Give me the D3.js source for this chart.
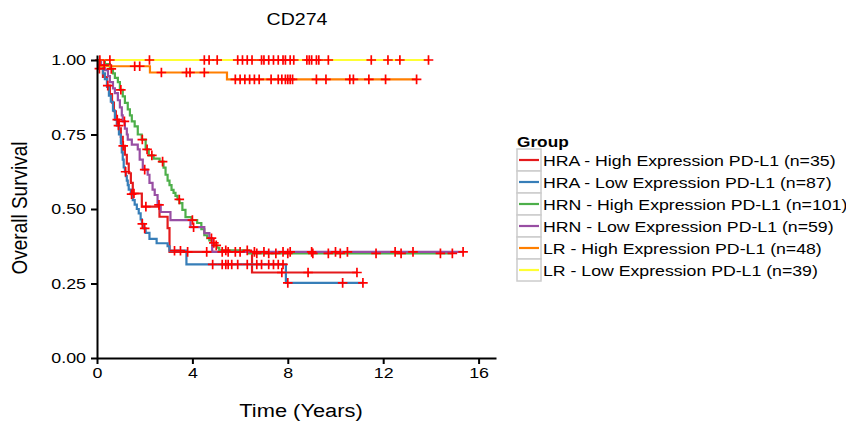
<!DOCTYPE html>
<html><head><meta charset="utf-8">
<script src="https://cdn.jsdelivr.net/npm/d3@7"></script>
<style>body{margin:0;background:#fff}svg{display:block}text{font-family:"Liberation Sans",Arial,sans-serif}</style>
</head><body><svg id="c" width="846" height="421"></svg>
<script>
// ---------- data ----------
const groupNames = ["HRA - High Expression PD-L1 (n=35)","HRA - Low Expression PD-L1 (n=87)","HRN - High Expression PD-L1 (n=101)","HRN - Low Expression PD-L1 (n=59)","LR - High Expression PD-L1 (n=48)","LR - Low Expression PD-L1 (n=39)"];
const groupColors = ["#E41A1C","#377EB8","#4DAF4A","#984EA3","#FF7F00","#FFFF33"];
const xTicks = [0,4,8,12,16];
const yTicks = [0,0.25,0.5,0.75,1];

const hraHighTime = [0.08,0.25,0.42,0.54,0.63,0.71,0.79,0.92,1.0,1.08,1.17,1.25,1.33,1.42,1.5,1.88,2.62,2.96,3.04,6.5];
const hraHighSurv = [0.971,0.943,0.914,0.886,0.857,0.828,0.800,0.771,0.742,0.712,0.682,0.652,0.620,0.588,0.552,0.508,0.474,0.436,0.356,0.287];
const hraHighEnd = 10.9;
const hraHighCensor = [0.1,0.45,0.85,1.1,1.55,2.05,3.8,4.6,5.25,5.8,7.75,8.85,10.9];

const hraLowTime = [0.12,0.25,0.33,0.42,0.5,0.58,0.67,0.75,0.83,0.92,1.0,1.04,1.08,1.12,1.17,1.21,1.25,1.29,1.33,1.42,1.5,1.58,1.67,1.75,1.83,1.88,1.96,2.04,2.2,2.5,2.96,3.04,3.75,7.92];
const hraLowSurv = [0.98,0.955,0.936,0.91,0.88,0.86,0.83,0.80,0.78,0.75,0.72,0.69,0.666,0.64,0.625,0.61,0.595,0.58,0.565,0.55,0.53,0.515,0.50,0.485,0.465,0.45,0.435,0.42,0.40,0.385,0.375,0.36,0.314,0.252];
const hraLowEnd = 11.15;
const hraLowCensor = [0.9,1.2,1.45,1.9,2.0,3.25,3.5,4.85,5.25,5.4,5.5,5.65,5.9,6.3,6.7,6.9,7.2,7.4,7.6,7.8,8.0,10.3,11.15];

const hrnHighTime = [0.33,0.54,0.67,0.75,0.875,0.96,1.08,1.17,1.29,1.38,1.46,1.58,1.71,1.875,2.04,2.17,2.375,2.625,2.79,2.875,2.96,3.04,3.125,3.21,3.29,3.375,3.46,3.58,3.71,3.96,4.2,4.375,4.5,4.62,4.71,4.83,4.92,5.04,5.125,6.375];
const hrnHighSurv = [0.986,0.97,0.955,0.94,0.926,0.90,0.878,0.856,0.834,0.814,0.794,0.777,0.75,0.733,0.70,0.68,0.669,0.659,0.639,0.615,0.595,0.58,0.564,0.554,0.544,0.532,0.52,0.497,0.473,0.463,0.453,0.432,0.412,0.402,0.395,0.386,0.378,0.37,0.361,0.351];
const hrnHighEnd = 14.9;
const hrnHighCensor = [0.6,1.0,1.9,2.1,2.3,2.75,3.45,4.0,4.9,5.0,5.4,6.3,6.7,7.2,7.5,8.0,9.05,9.7,10.2,11.7,12.75,14.4,14.9];

const hrnLowTime = [0.17,0.33,0.46,0.54,0.67,0.75,0.875,0.96,1.04,1.08,1.17,1.25,1.29,1.46,1.71,1.79,1.92,2.125,2.2,2.33,2.42,2.54,2.67,3.08,3.92,4.5,4.71,4.83];
const hrnLowSurv = [0.983,0.966,0.946,0.926,0.905,0.889,0.865,0.841,0.814,0.794,0.77,0.75,0.733,0.716,0.70,0.666,0.632,0.615,0.588,0.565,0.547,0.514,0.49,0.463,0.439,0.419,0.402,0.356];
const hrnLowEnd = 15.35;
const hrnLowCensor = [0.3,1.15,2.0,2.6,4.05,4.8,5.5,6.0,6.6,7.0,7.8,8.1,9.0,10.0,10.5,12.5,13.25,15.35];

const lrHighTime = [0.12,2.22,5.45];
const lrHighSurv = [0.979,0.958,0.935];
const lrHighEnd = 13.4;
const lrHighCensor = [1.58,1.79,2.7,3.75,3.9,4.5,5.8,6.0,6.2,6.4,6.6,6.8,7.3,7.6,7.75,7.9,8.0,8.1,8.2,9.2,9.6,10.6,10.75,11.4,12.1,13.4];

const lrLowTime = [];
const lrLowSurv = [];
const lrLowEnd = 13.9;
const lrLowCensor = [0.12,0.54,2.2,4.5,4.7,5.04,5.9,6.1,6.3,6.5,6.9,7.0,7.2,7.4,7.6,7.8,7.9,8.1,8.25,8.8,8.9,9.0,9.2,9.3,9.7,11.5,12.2,12.7,13.9];

// ---------- build ----------
const groups = [
  {time:hraHighTime,surv:hraHighSurv,end:hraHighEnd,censor:hraHighCensor},
  {time:hraLowTime,surv:hraLowSurv,end:hraLowEnd,censor:hraLowCensor},
  {time:hrnHighTime,surv:hrnHighSurv,end:hrnHighEnd,censor:hrnHighCensor},
  {time:hrnLowTime,surv:hrnLowSurv,end:hrnLowEnd,censor:hrnLowCensor},
  {time:lrHighTime,surv:lrHighSurv,end:lrHighEnd,censor:lrHighCensor},
  {time:lrLowTime,surv:lrLowSurv,end:lrLowEnd,censor:lrLowCensor}
];
const SX = 1.15;
const svg = d3.select("#c");
const x = d3.scaleLinear().domain([0,16.73]).range([97,496]);
const y = d3.scaleLinear().domain([0,1.0168]).range([358,55]);

function survAt(g,t){let s=1;for(let i=0;i<g.time.length;i++){if(g.time[i]<=t)s=g.surv[i];}return s;}
function pts(g){const p=[[0,1]];g.time.forEach((t,i)=>p.push([t,g.surv[i]]));p.push([g.end,g.surv.length?g.surv[g.surv.length-1]:1]);return p;}
const line = d3.line().x(d=>x(d[0])).y(d=>y(d[1])).curve(d3.curveStepAfter);

groups.forEach((g,i)=>{
  svg.append("path").attr("d",line(pts(g))).attr("fill","none")
    .attr("stroke",groupColors[i]).attr("stroke-width",2.2);
});
groups.forEach((g,i)=>{
  svg.append("g").selectAll("path").data(g.censor).join("path")
    .attr("transform",t=>`translate(${x(t)},${y(survAt(g,t))})`)
    .attr("d","M-4.8,0H4.8M0,-4.8V4.8").attr("stroke","#FF0000").attr("stroke-width",1.7).attr("fill","none");
});

// axes
const ya = svg.append("g").attr("transform","translate(97,0)")
  .call(d3.axisLeft(y).tickValues(yTicks).tickFormat(d3.format(".2f")).tickSize(6).tickSizeOuter(0).tickPadding(3.6));
const xa = svg.append("g").attr("transform","translate(0,358)")
  .call(d3.axisBottom(x).tickValues(xTicks).tickFormat(d3.format("d")).tickSize(6).tickSizeOuter(0).tickPadding(3));
[ya,xa].forEach(a=>{
  a.select(".domain").attr("stroke","#000").attr("stroke-width",2);
  a.selectAll(".tick line").attr("stroke","#000").attr("stroke-width",2);
  a.selectAll(".tick text").attr("fill","#000").attr("font-size",15.5)
    .attr("font-family","'Liberation Sans',Arial,sans-serif").attr("transform",`scale(${SX},1)`);
});
xa.selectAll(".tick text").attr("x",0);

function stext(txt,tx,ty,size,anchor,weight,extra){
  return svg.append("text").text(txt).attr("font-size",size).attr("text-anchor",anchor)
    .attr("font-weight",weight||"normal").attr("fill","#000")
    .attr("transform",`translate(${tx},${ty}) scale(${SX},1)`+(extra||""));
}
stext("CD274",297,25,17,"middle");
stext("Time (Years)",301,417,19,"middle");
stext("Overall Survival",27,208,19,"middle",null," rotate(-90)");

// legend
stext("Group",517,147,15,"start","bold");
groupNames.forEach((n,i)=>{
  const top = 149 + i*22;
  svg.append("rect").attr("x",517).attr("y",top).attr("width",24).attr("height",22)
    .attr("fill","#fff").attr("stroke","#cccccc").attr("stroke-width",1.5);
  svg.append("line").attr("x1",519).attr("x2",539).attr("y1",top+11).attr("y2",top+11)
    .attr("stroke",groupColors[i]).attr("stroke-width",2.2);
  stext(n,543,top+16.5,15.4,"start");
});
</script></body></html>
